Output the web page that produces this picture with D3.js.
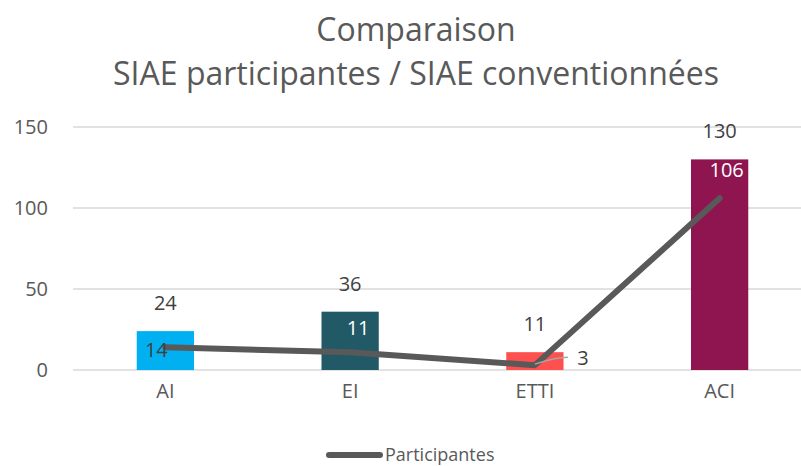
<!DOCTYPE html>
<html>
  <head>
    <meta charset="utf-8">
    <title>Comparaison SIAE</title>
    <script src="https://d3js.org/d3.v7.min.js"></script>
    <style>
      body { margin: 0; background: #fff; }
      text { font-family: "Open Sans", "Liberation Sans", sans-serif; fill: #404040; }
      .grid line { stroke: #d9d9d9; stroke-width: 1.3; }
    </style>
  </head>
  <body>
    <svg width="801" height="466"></svg>

  <script>
    // data
    var categories = ["AI", "EI", "ETTI", "ACI"];
    var conventionnees = [24, 36, 11, 130];
    var participantes = [14, 11, 3, 106];
    var barColors = ["#00b0f0", "#215967", "#ff5050", "#8e1550"];
    var yTicks = [0, 50, 100, 150];

    var svg = d3.select("svg");

    // scales
    var xScale = d3.scaleBand().domain(categories).range([73, 812]).paddingInner(0.69).paddingOuter(0.345);
    var yScale = d3.scaleLinear().domain([0, 150]).range([370, 127]);

    // title
    var title = svg.append("text")
       .attr("text-anchor", "middle")
       .attr("font-size", "32px")
       .style("fill", "#595959");
    title.append("tspan").attr("x", 416).attr("y", 41).text("Comparaison");
    title.append("tspan").attr("x", 416).attr("y", 85).text("SIAE participantes / SIAE conventionnées");

    // gridlines
    svg.append("g")
       .attr("class", "grid")
       .selectAll("line")
       .data(yTicks)
       .enter().append("line")
       .attr("x1", 73).attr("x2", 801)
       .attr("y1", function(d) { return yScale(d); })
       .attr("y2", function(d) { return yScale(d); });

    // y axis labels
    var yAxis = svg.append("g")
       .attr("transform", "translate(60,0)")
       .call(d3.axisLeft(yScale).tickValues(yTicks).tickSize(0).tickPadding(12));
    yAxis.select(".domain").remove();
    yAxis.selectAll("text").attr("font-size", "20px").style("fill", "#595959").attr("font-family", null);

    // x axis labels
    var xAxis = svg.append("g")
       .attr("transform", "translate(0,370)")
       .call(d3.axisBottom(xScale).tickSize(0).tickPadding(14));
    xAxis.select(".domain").remove();
    xAxis.selectAll("text").attr("font-size", "20px").style("fill", "#595959").attr("font-family", null);

    // bars
    svg.selectAll(".bar")
       .data(categories)
       .enter().append("rect")
       .attr("class", "bar")
       .attr("x", function(d) { return xScale(d); })
       .attr("y", function(d, i) { return yScale(conventionnees[i]); })
       .attr("width", xScale.bandwidth())
       .attr("height", function(d, i) { return yScale(0) - yScale(conventionnees[i]); })
       .attr("fill", function(d, i) { return barColors[i]; });

    // bar value labels
    svg.selectAll(".barlabel")
       .data(categories)
       .enter().append("text")
       .attr("class", "barlabel")
       .attr("text-anchor", "middle")
       .attr("font-size", "20px")
       .attr("x", function(d) { return xScale(d) + xScale.bandwidth() / 2; })
       .attr("y", function(d, i) { return yScale(conventionnees[i]) - 21; })
       .text(function(d, i) { return conventionnees[i]; });

    // line
    var cx = function(i) { return xScale(categories[i]) + xScale.bandwidth() / 2; };
    var line = d3.line()
       .x(function(d, i) { return cx(i); })
       .y(function(d) { return yScale(d); });

    svg.append("path")
       .datum(participantes)
       .attr("d", line)
       .attr("fill", "none")
       .attr("stroke", "#595959")
       .attr("stroke-width", 6)
       .attr("stroke-linecap", "round")
       .attr("stroke-linejoin", "round");

    // leader line for the "3" label
    svg.append("path")
       .attr("d", "M" + cx(2) + "," + (yScale(participantes[2]) - 1) +
                  " Q" + (cx(2) + 20) + "," + (yScale(participantes[2]) - 8) +
                  " " + (cx(2) + 33) + "," + (yScale(participantes[2]) - 8))
       .attr("fill", "none")
       .attr("stroke", "#a6a6a6")
       .attr("stroke-width", 1.5);

    // line value labels: offsets relative to each point
    var lineLabelDx = [-9, 8, 48, 7];
    var lineLabelDy = [4, -23, -5, -27];
    var lineLabelFill = ["#404040", "#ffffff", "#404040", "#ffffff"];
    svg.selectAll(".linelabel")
       .data(participantes)
       .enter().append("text")
       .attr("class", "linelabel")
       .attr("text-anchor", "middle")
       .attr("dominant-baseline", "middle")
       .attr("font-size", "20px")
       .attr("x", function(d, i) { return cx(i) + lineLabelDx[i]; })
       .attr("y", function(d, i) { return yScale(d) + lineLabelDy[i]; })
       .style("fill", function(d, i) { return lineLabelFill[i]; })
       .text(function(d) { return d; });

    // legend
    var legend = svg.append("g").attr("transform", "translate(0,455)");
    legend.append("line")
       .attr("x1", 329).attr("x2", 380)
       .attr("stroke", "#595959").attr("stroke-width", 6).attr("stroke-linecap", "round");
    legend.append("text")
       .attr("x", 385).attr("y", 6)
       .attr("font-size", "18px")
       .style("fill", "#595959")
       .text("Participantes");
  </script>
  </body>
</html>
